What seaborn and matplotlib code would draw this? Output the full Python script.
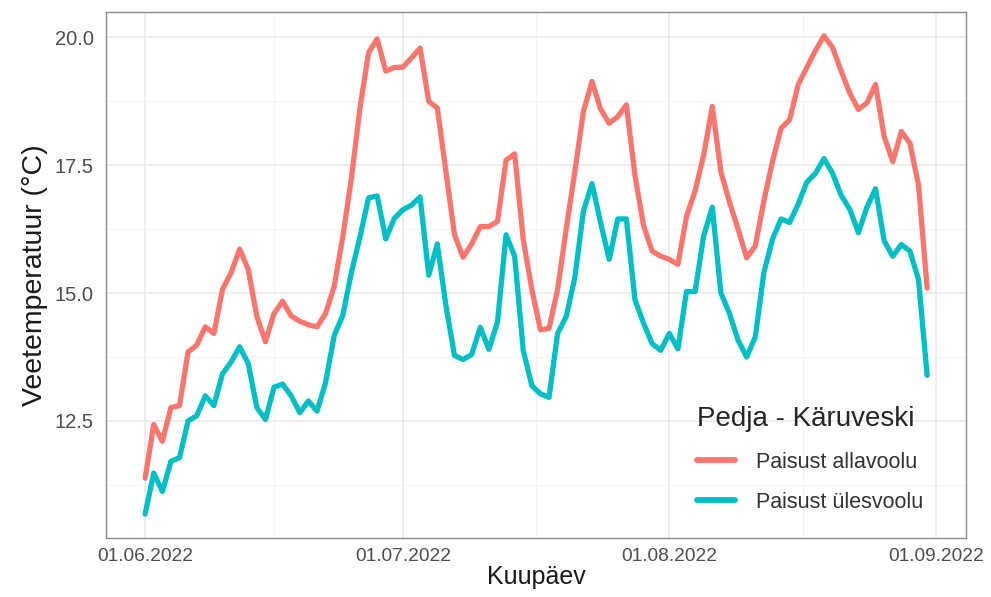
import matplotlib
matplotlib.use('Agg')
import matplotlib.pyplot as plt
import matplotlib.dates as mdates
import matplotlib.ticker as mticker
import numpy as np
import pandas as pd
import seaborn as sns

# daily mean water temperature, 01.06.2022 - 31.08.2022
start_date = '2022-06-01'
allavoolu = [
    11.38, 12.43, 12.10, 12.76, 12.80, 13.85, 13.98, 14.34, 14.21, 15.07,
    15.40, 15.86, 15.46, 14.54, 14.05, 14.60, 14.84, 14.55, 14.45, 14.38,
    14.34, 14.60, 15.13, 16.10, 17.24, 18.62, 19.70, 19.97, 19.34, 19.41,
    19.42, 19.60, 19.79, 18.75, 18.62, 17.38, 16.14, 15.70, 15.96, 16.30,
    16.30, 16.40, 17.60, 17.72, 16.05, 15.07, 14.28, 14.31, 15.07, 16.25,
    17.37, 18.55, 19.14, 18.60, 18.32, 18.45, 18.68, 17.30, 16.32, 15.82,
    15.72, 15.66, 15.56, 16.50, 17.00, 17.70, 18.65, 17.37, 16.78, 16.25,
    15.69, 15.92, 16.80, 17.57, 18.22, 18.39, 19.08, 19.41, 19.74, 20.03,
    19.80, 19.34, 18.91, 18.59, 18.72, 19.08, 18.06, 17.57, 18.16, 17.93,
    17.11, 15.10,
]
ylesvoolu = [
    10.68, 11.48, 11.12, 11.71, 11.78, 12.50, 12.60, 12.99, 12.80, 13.42,
    13.65, 13.95, 13.62, 12.76, 12.53, 13.16, 13.22, 12.99, 12.66, 12.89,
    12.69, 13.25, 14.17, 14.56, 15.40, 16.10, 16.86, 16.90, 16.06, 16.46,
    16.63, 16.72, 16.88, 15.35, 15.96, 14.76, 13.78, 13.70, 13.80, 14.33,
    13.90, 14.43, 16.14, 15.72, 13.88, 13.19, 13.03, 12.96, 14.21, 14.54,
    15.30, 16.60, 17.14, 16.38, 15.66, 16.45, 16.45, 14.87, 14.41, 14.01,
    13.88, 14.21, 13.91, 15.03, 15.03, 16.12, 16.68, 15.00, 14.60, 14.08,
    13.75, 14.14, 15.40, 16.05, 16.45, 16.38, 16.74, 17.17, 17.34, 17.63,
    17.34, 16.91, 16.64, 16.18, 16.68, 17.04, 16.02, 15.72, 15.95, 15.82,
    15.26, 13.39,
]
series_names = ['Paisust allavoolu', 'Paisust ülesvoolu']
legend_title = 'Pedja - Käruveski'
y_ticks = [12.5, 15.0, 17.5, 20.0]
x_ticks = ['2022-06-01', '2022-07-01', '2022-08-01', '2022-09-01']
palette = ['#F8766D', '#00BFC4']

dates = pd.date_range(start_date, periods=len(allavoolu), freq='D')
n = len(dates)
df = pd.DataFrame({
    'Kuupäev': list(dates) * 2,
    'Veetemperatuur': allavoolu + ylesvoolu,
    'koht': [series_names[0]] * n + [series_names[1]] * n,
})

sns.set_theme(style='whitegrid')
plt.rcParams['font.family'] = ['Liberation Sans', 'DejaVu Sans']

fig, ax = plt.subplots(figsize=(9.91, 5.97), dpi=100)
fig.subplots_adjust(left=0.107, right=0.975, top=0.98, bottom=0.099)

sns.lineplot(data=df, x='Kuupäev', y='Veetemperatuur', hue='koht',
             palette=palette, linewidth=3.8, ax=ax)

# ggplot-like 5% expansion
x0, x1 = dates[0], dates[-1]
pad = (x1 - x0) * 0.05
ax.set_xlim(x0 - pad, x1 + pad)
all_vals = np.array(allavoolu + ylesvoolu)
ypad = (all_vals.max() - all_vals.min()) * 0.05
ax.set_ylim(all_vals.min() - ypad, all_vals.max() + ypad)

major_x = pd.to_datetime(x_ticks)
minor_x = major_x[:-1] + (major_x[1:] - major_x[:-1]) / 2
ax.set_xticks(major_x)
ax.set_xticks(minor_x, minor=True)
ax.xaxis.set_major_formatter(mdates.DateFormatter('%d.%m.%Y'))
ax.set_yticks(y_ticks)
ax.set_yticks([v - 1.25 for v in y_ticks], minor=True)
ax.yaxis.set_major_formatter(mticker.FormatStrFormatter('%.1f'))

ax.grid(which='major', color='#EBEBEB', linewidth=1.2)
ax.grid(which='minor', color='#F3F3F3', linewidth=0.7)
ax.set_axisbelow(True)
for sp in ax.spines.values():
    sp.set_visible(True)
    sp.set_color('#8C8C8C')
    sp.set_linewidth(1.0)
ax.tick_params(which='major', length=4, width=1, color='#333333',
               labelcolor='#4D4D4D', pad=3)
ax.tick_params(axis='x', labelsize=13.8)
ax.tick_params(axis='y', labelsize=14.5, pad=5)
ax.tick_params(which='minor', length=0)

ax.set_xlabel('Kuupäev', fontsize=18, color='#1A1A1A', labelpad=0)
ax.set_ylabel('Veetemperatuur (°C)', fontsize=20.5, color='#1A1A1A', labelpad=5)

leg = ax.legend(title=legend_title, loc='lower left',
                bbox_to_anchor=(0.675, 0.027), frameon=False,
                fontsize=15.5, title_fontsize=20, borderpad=0,
                handlelength=1.75, handletextpad=0.95, labelspacing=0.9,
                alignment='left')
for line in leg.get_lines():
    line.set_linewidth(4.2)
for t in leg.get_texts():
    t.set_color('#333333')

plt.savefig('out.png', dpi=100)
